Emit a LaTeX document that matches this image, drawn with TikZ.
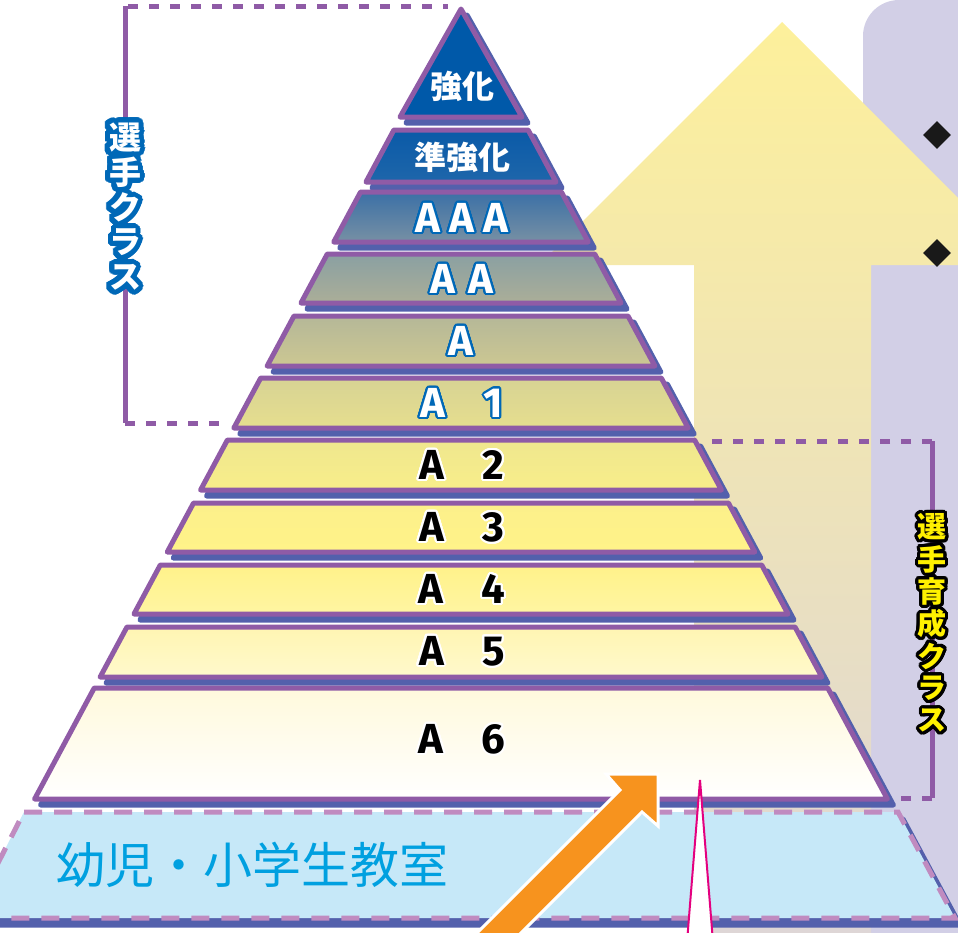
\documentclass[tikz,border=0pt]{standalone}
\usepackage{fontspec}
\usepackage[copies]{contour}
\usetikzlibrary{shapes.geometric}
\newfontfamily\jpfont{Noto Sans CJK JP}
\newfontfamily\latfont{Fira Sans}
\contournumber{32}
\contourlength{2pt}
\definecolor{shadowblue}{HTML}{5360AC}
\definecolor{lineviolet}{HTML}{8F5BA6}
\definecolor{dashpink}{HTML}{C08BC0}
\definecolor{classblue}{HTML}{C6E8F8}
\definecolor{kyokablue}{HTML}{0059A9}
\definecolor{rimblue}{HTML}{0068B7}
\definecolor{arroworange}{HTML}{F7931E}
\definecolor{spikemagenta}{HTML}{E4007F}
\definecolor{panellav}{HTML}{D2CFE6}
\definecolor{arrowtop}{HTML}{FDF09B}
\definecolor{arrowbot}{HTML}{DDD5D8}
\definecolor{textcyan}{HTML}{00A0E0}
\definecolor{classyellow}{HTML}{FFF100}
\definecolor{junT}{HTML}{0A5AA8}\definecolor{junB}{HTML}{1E66AA}
\definecolor{aaaT}{HTML}{3B70A6}\definecolor{aaaB}{HTML}{7790A4}
\definecolor{aaT}{HTML}{8AA0A2}\definecolor{aaB}{HTML}{ABAE98}
\definecolor{aT}{HTML}{B5B898}\definecolor{aB}{HTML}{CCC792}
\definecolor{aoneT}{HTML}{D7D394}\definecolor{aoneB}{HTML}{E6DE8E}
\definecolor{atwoT}{HTML}{EFE78E}\definecolor{atwoB}{HTML}{F8EE8A}
\definecolor{athreeT}{HTML}{FCF08A}\definecolor{athreeB}{HTML}{FFF389}
\definecolor{afourT}{HTML}{FFF28A}\definecolor{afourB}{HTML}{FFF5A2}
\definecolor{afiveT}{HTML}{FFF5B2}\definecolor{afiveB}{HTML}{FFF9CC}
\definecolor{asixT}{HTML}{FFF9DC}\definecolor{asixB}{HTML}{FFFFFF}
\tikzset{layer/.style={draw=lineviolet, line width=5pt, line join=round}}
\tikzset{layer shadow/.style={fill=shadowblue, draw=shadowblue, line width=5pt, line join=round}}
\tikzset{bracket/.style={draw=lineviolet, line width=5pt}}
\tikzset{bracket dashed/.style={bracket, dash pattern=on 10pt off 11pt}}
\tikzset{kanji label/.style={text=white, font=\jpfont\bfseries\fontsize{32}{32}\selectfont, inner sep=0pt}}
\tikzset{grade label/.style={font=\latfont\bfseries\fontsize{42}{42}\selectfont, inner sep=0pt}}
\tikzset{side label/.style={font=\jpfont\bfseries\fontsize{#1}{#1}\selectfont, inner sep=0pt}}

\begin{document}
\begin{tikzpicture}[x=1pt, y=-1pt]
    \useasboundingbox (0,0) rectangle (958,932);
    \clip (0,0) rectangle (958,932);
    % panel and big arrow
    \fill[panellav, rounded corners=36pt] (863,960) -- (863,0) -- (990,0) -- (990,960) -- cycle;
    \shade[top color=arrowtop, bottom color=arrowbot] (782,22) -- (539,265) -- (694,265) -- (694,960) -- (871,960) -- (871,265) -- (1025,265) -- cycle;
    \node[diamond, fill=black!90, minimum width=28pt, minimum height=28pt, inner sep=0pt] (bulletone) at (937,135) {};
    \node[diamond, fill=black!90, minimum width=28pt, minimum height=28pt, inner sep=0pt] (bullettwo) at (937,253) {};
    % brackets
    \draw[bracket] (125,6) -- (125,423);
    \draw[bracket dashed] (128,6) -- (448,6);
    \draw[bracket dashed] (125,423) -- (228,423);
    \draw[bracket] (932,441) -- (932,798);
    \draw[bracket dashed] (932,441) -- (705,441);
    \draw[bracket dashed] (932,798) -- (895,798);
    % pyramid
    \path[layer shadow, xshift=6pt, yshift=-6pt] (461,9) -- (522,117) -- (400,117) -- cycle;
    \path[layer, fill=kyokablue] (461,9) -- (522,117) -- (400,117) -- cycle;
    \foreach \yt/\yb/\ct/\cb in {130/182/junT/junB, 192/242/aaaT/aaaB, 254/303/aaT/aaB, 316/366/aT/aB,
        378/428/aoneT/aoneB, 440/490/atwoT/atwoB, 503/552/athreeT/athreeB, 565/614/afourT/afourB,
        627/677/afiveT/afiveB, 688/799/asixT/asixB}
    {
        \path[layer shadow, xshift=6pt, yshift=-6pt] ({461-0.537*(\yt-5)},\yt) -- ({461+0.537*(\yt-5)},\yt) -- ({461+0.537*(\yb-5)},\yb) -- ({461-0.537*(\yb-5)},\yb) -- cycle;
        \path[layer, top color=\ct, bottom color=\cb] ({461-0.537*(\yt-5)},\yt) -- ({461+0.537*(\yt-5)},\yt) -- ({461+0.537*(\yb-5)},\yb) -- ({461-0.537*(\yb-5)},\yb) -- cycle;
    }
    % classroom
    \path[layer shadow, xshift=5pt, yshift=-7pt] (24,812) -- (898,812) -- (955,918) -- (-30,918) -- cycle;
    \path[fill=classblue] (24,812) -- (898,812) -- (955,918) -- (-30,918) -- cycle;
    \draw[dashpink, line width=5pt, dash pattern=on 18pt off 12pt] (24,812) -- (898,812) -- (955,918) -- (-30,918) -- cycle;
    \node[anchor=west, inner sep=0pt, text=textcyan, font=\jpfont\fontsize{49}{49}\selectfont] (kyoshitsu) at (56,865) {幼児・小学生教室};
    % arrows
    \draw[fill=arroworange, draw=white, line width=3pt, line join=miter] (658,774) -- (606,774) -- (620,790) -- (468,942) -- (512,942) -- (642,812) -- (658,826) -- cycle;
    \draw[fill=white, draw=spikemagenta, line width=2pt] (687,942) -- (700,780) -- (713,942);
    % labels
    \node[kanji label] (kyoka) at (462,86) {強化};
    \node[kanji label] (junkyoka) at (462,157) {準強化};
    \node[grade label, text=white] (aaa) at (462,219) {\contour{rimblue}{A\hspace{9.5pt}A\hspace{9.5pt}A}};
    \node[grade label, text=white] (aa) at (462,280) {\contour{rimblue}{A\hspace{13pt}A}};
    \node[grade label, text=white] (a) at (461,342) {\contour{rimblue}{A}};
    \node[grade label, text=white] (aone) at (462,404) {\contour{rimblue}{A\hspace{38.5pt}1}};
    \node[grade label, text=black] (atwo) at (462,466) {\contour{white}{A\hspace{38.5pt}2}};
    \node[grade label, text=black] (athree) at (462,528) {\contour{white}{A\hspace{38.5pt}3}};
    \node[grade label, text=black] (afour) at (462,590) {\contour{white}{A\hspace{38.5pt}4}};
    \node[grade label, text=black] (afive) at (462,652) {\contour{white}{A\hspace{38.5pt}5}};
    \node[grade label, text=black] (asix) at (462,740) {\contour{white}{A\hspace{38.5pt}6}};
    % side labels
    \foreach \ch [count=\i] in {選,手,ク,ラ,ス}
        \node[side label=32, text=white] (senshu\i) at (125,105+35*\i) {\contourlength{5pt}\contour{rimblue}{\ch}};
    \foreach \ch [count=\i] in {選,手,育,成,ク,ラ,ス}
        \node[side label=29, text=classyellow] (ikusei\i) at (932,496+32.3*\i) {\contourlength{3pt}\contour{black}{\ch}};
\end{tikzpicture}
\end{document}
